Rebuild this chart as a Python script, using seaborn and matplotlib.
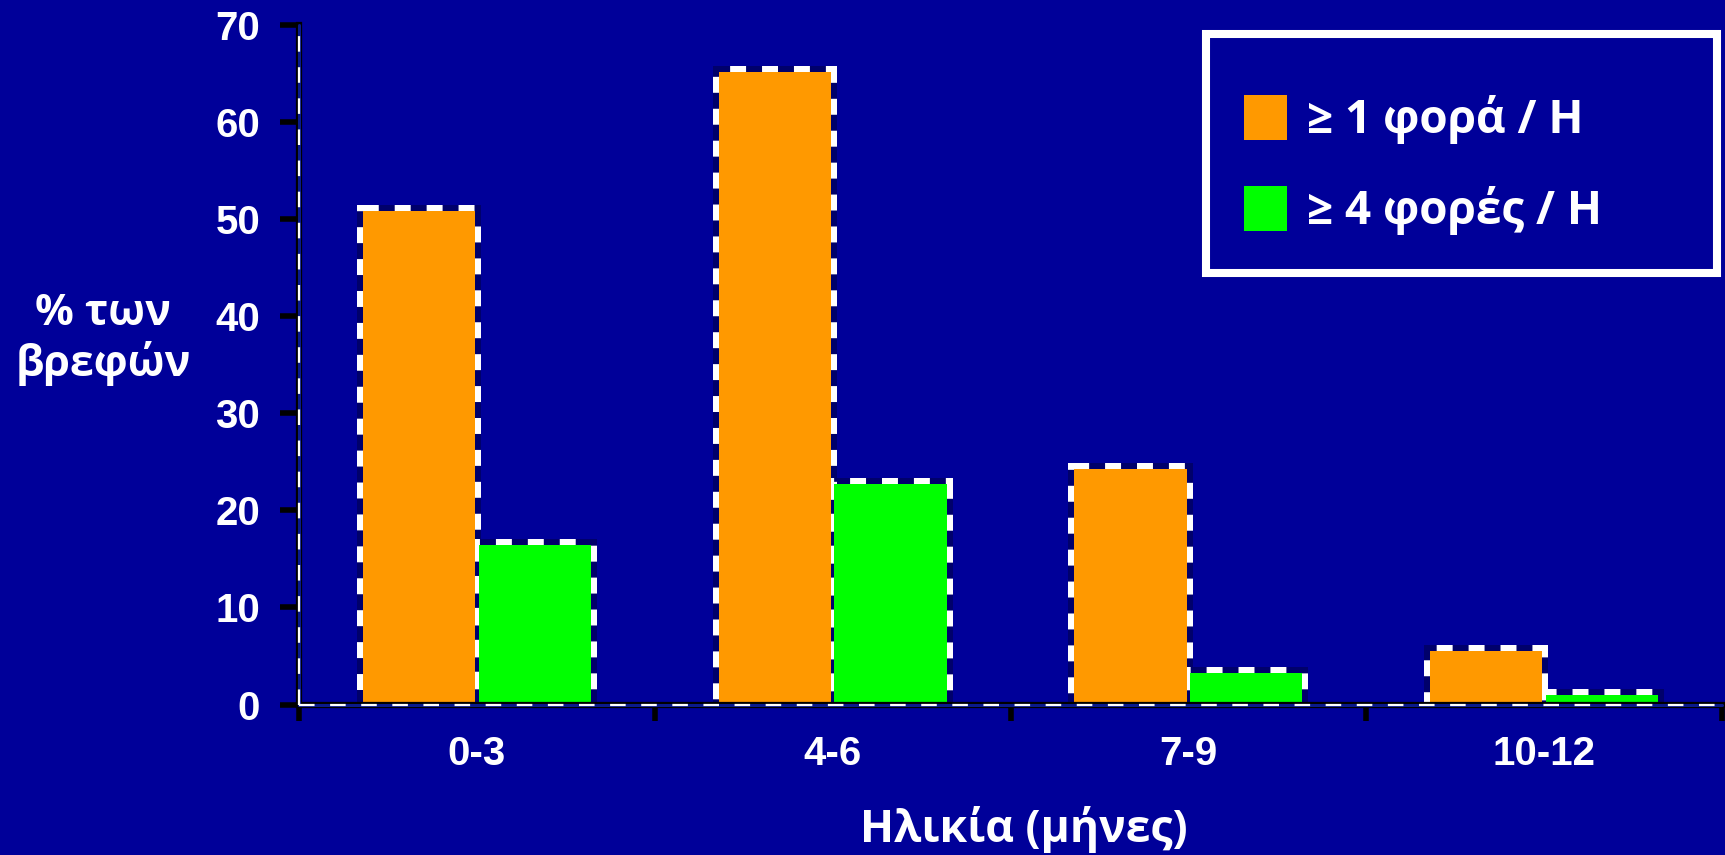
import numpy as np
import pandas as pd
import matplotlib
matplotlib.use("Agg")
import matplotlib.pyplot as plt
from matplotlib.patches import Patch, Rectangle
import seaborn as sns

# ---- data ----
ages = ["0-3", "4-6", "7-9", "10-12"]
series_names = ["\u2265 1 φορά / Η", "\u2265 4 φορές / Η"]
once_per_week = [50.8, 65.2, 24.3, 5.5]
four_per_week = [16.4, 22.7, 3.2, 1.0]
yticks = [0, 10, 20, 30, 40, 50, 60, 70]
xlabel = "Ηλικία (μήνες)"
ylabel = "% των\nβρεφών"

colors = ["#FF9900", "#00FF00"]
BG = "#000099"

df = pd.DataFrame({
    "age": ages * 2,
    "pct": once_per_week + four_per_week,
    "series": [series_names[0]] * len(ages) + [series_names[1]] * len(ages),
})

sns.set_style("white")
plt.rcParams["font.family"] = ["Open Sans", "DejaVu Sans"]

W, H = 1725, 855
fig = plt.figure(figsize=(W / 100, H / 100), dpi=100, facecolor=BG)
ax = fig.add_axes([299 / W, (H - 704.5) / H, (1722 - 299) / W, (704.5 - 25) / H])
ax.set_facecolor(BG)

common = dict(data=df, x="age", y="pct", hue="series", order=ages,
              hue_order=series_names, palette=colors, width=0.65, gap=0.03,
              errorbar=None, saturation=1, legend=False, ax=ax)
# dark outline layer
sns.barplot(**common, linewidth=8.64, edgecolor="#00006b")
# white dashed outline layer
sns.barplot(**common, linewidth=8.64, edgecolor="white", linestyle=(0, (1.33, 1.33)))
# fill layer
sns.barplot(**common, linewidth=0)

ax.set_xlim(-0.5, 3.5)
ax.set_ylim(0, 70)
ax.set_yticks(yticks)
ax.set_xticks(range(len(ages)))
ax.set_xticklabels(ages)
ax.set_xticks(np.arange(-0.5, len(ages), 1.0), minor=True)

for s in ["top", "right"]:
    ax.spines[s].set_visible(False)
for s in ["left", "bottom"]:
    ax.spines[s].set_color("black")
    ax.spines[s].set_linewidth(4.5)
    ax.spines[s].set_zorder(3)

# inner navy + white dashes on axis lines
ax.axvline(-0.5, color="#0a1a8c", lw=2.2, zorder=3.1, clip_on=False)
ax.axvline(-0.5, color="white", lw=1.6, ls=(0, (7, 7)), zorder=3.2, clip_on=False)
ax.axhline(0, color="#0a1a8c", lw=2.2, zorder=3.1, clip_on=False)
ax.axhline(0, color="white", lw=1.6, ls=(0, (7, 7)), zorder=3.2, clip_on=False)

tickfont = dict(family=["Liberation Sans", "DejaVu Sans"], weight="bold", size=29)
ax.tick_params(axis="y", which="major", left=True, direction="out", length=14,
               width=4, color="black", pad=14, labelcolor="white")
ax.tick_params(axis="x", which="major", bottom=True, length=0, pad=22,
               labelcolor="white")
ax.tick_params(axis="x", which="minor", bottom=True, direction="out",
               length=11.5, width=4, color="black")
for lab in ax.get_yticklabels() + ax.get_xticklabels():
    lab.set_fontproperties(matplotlib.font_manager.FontProperties(**tickfont))

ax.set_xlabel(xlabel, color="white", fontsize=32, fontweight="bold",
              family=["Open Sans", "DejaVu Sans"])
ax.xaxis.set_label_coords((1023.5 - 299) / 1423, (704.5 - 842) / 679.5)
ax.xaxis.label.set_va("baseline")
ax.set_ylabel("")

fig.text(103 / W, 1 - 339 / H, ylabel, color="white", fontsize=31,
         fontweight="bold", ha="center", va="center", multialignment="center",
         linespacing=1.15, family=["Open Sans", "DejaVu Sans"])

# legend
handles = [Patch(facecolor=c, edgecolor="none") for c in colors]
leg = ax.legend(handles, series_names, loc="upper left",
                bbox_to_anchor=(1244 / W, 1 - 95 / H), bbox_transform=fig.transFigure,
                frameon=False, borderpad=0, borderaxespad=0,
                handlelength=0.93, handleheight=1.15, handletextpad=0.45,
                labelspacing=0.9,
                prop=dict(family=["Open Sans", "DejaVu Sans"], weight="bold", size=33))
for t in leg.get_texts():
    t.set_color("white")
fig.add_artist(Rectangle((1206 / W, 1 - 273 / H), 511 / W, 239 / H,
                         transform=fig.transFigure, fill=False,
                         edgecolor="white", linewidth=5.8))

fig.savefig("out.png", dpi=100, facecolor=BG)
